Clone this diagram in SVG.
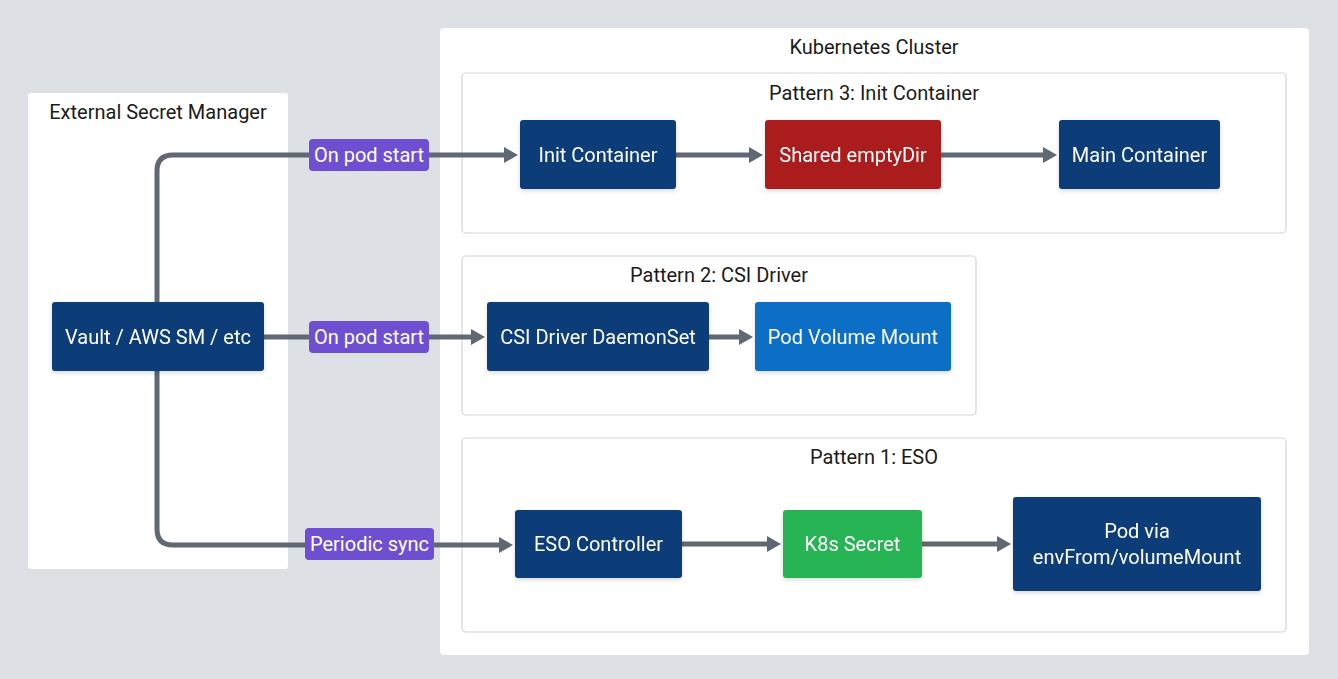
<svg xmlns="http://www.w3.org/2000/svg" width="1338" height="679" viewBox="0 0 1338 679">
<defs>
<style>
text{font-family:Roboto,"Liberation Sans",sans-serif;font-size:20px;}
.title{fill:#1b1b1b;text-anchor:middle;}
.nt{fill:#ffffff;text-anchor:middle;}
.panel{fill:#ffffff;}
.pattern{fill:#ffffff;stroke:#d3d6da;stroke-width:1.2;}
.node{filter:url(#sh);}
.dark{fill:#0b3e78;}
.blue{fill:#0b6ec5;}
.red{fill:#ab1c1e;}
.green{fill:#27b454;}
.lbl{fill:#6e4fd1;}
.conn{fill:none;stroke:#5f6873;stroke-width:5;marker-end:url(#ah);}
</style>
<marker id="ah" markerUnits="userSpaceOnUse" markerWidth="16" markerHeight="18" refX="2" refY="8" orient="auto">
<path d="M0,0 L14,8 L0,16 z" fill="#5f6873"/>
</marker>
<filter id="sh" x="-10%" y="-10%" width="120%" height="130%">
<feDropShadow dx="0" dy="2" stdDeviation="2" flood-color="#000000" flood-opacity="0.15"/>
</filter>
</defs>
<rect width="1338" height="679" fill="#dde1e6"/>

<g id="external-secret-manager">
<rect class="panel" x="28" y="93" width="260" height="476" rx="3"/>
<text class="title" x="158" y="119">External Secret Manager</text>
</g>

<g id="kubernetes-cluster">
<rect class="panel" x="440" y="28" width="869" height="627" rx="4"/>
<text class="title" x="874" y="54">Kubernetes Cluster</text>
</g>

<g id="pattern-3">
<rect class="pattern" x="462" y="73" width="824" height="160" rx="4"/>
<text class="title" x="874" y="100">Pattern 3: Init Container</text>
</g>

<g id="pattern-2">
<rect class="pattern" x="462" y="256" width="514" height="159" rx="4"/>
<text class="title" x="719" y="282">Pattern 2: CSI Driver</text>
</g>

<g id="pattern-1">
<rect class="pattern" x="462" y="438" width="824" height="194" rx="4"/>
<text class="title" x="874" y="464">Pattern 1: ESO</text>
</g>

<g id="connectors">
<path class="conn" d="M157,302 V171 Q157,155 173,155 H506"/>
<path class="conn" d="M264,337 H473"/>
<path class="conn" d="M157,371 V529 Q157,545 173,545 H501"/>
<path class="conn" d="M676,155 H751"/>
<path class="conn" d="M941,155 H1045"/>
<path class="conn" d="M709,337 H741"/>
<path class="conn" d="M682,544 H769"/>
<path class="conn" d="M922,544 H999"/>
</g>

<g id="label-on-pod-start-1">
<rect class="lbl" x="309" y="139" width="120" height="32" rx="4"/>
<text class="nt" x="369" y="162">On pod start</text>
</g>
<g id="label-on-pod-start-2">
<rect class="lbl" x="309" y="321" width="120" height="32" rx="4"/>
<text class="nt" x="369" y="344">On pod start</text>
</g>
<g id="label-periodic-sync">
<rect class="lbl" x="305" y="528" width="129" height="32" rx="4"/>
<text class="nt" x="369.5" y="551">Periodic sync</text>
</g>

<g id="vault" class="node">
<rect class="dark" x="52" y="302" width="212" height="69" rx="3"/>
<text class="nt" x="158" y="344">Vault / AWS SM / etc</text>
</g>

<g id="init-container" class="node">
<rect class="dark" x="520" y="120" width="156" height="69" rx="3"/>
<text class="nt" x="598" y="162">Init Container</text>
</g>

<g id="shared-emptydir" class="node">
<rect class="red" x="765" y="120" width="176" height="69" rx="3"/>
<text class="nt" x="853" y="162">Shared emptyDir</text>
</g>

<g id="main-container" class="node">
<rect class="dark" x="1059" y="120" width="161" height="69" rx="3"/>
<text class="nt" x="1139.5" y="162">Main Container</text>
</g>

<g id="csi-driver" class="node">
<rect class="dark" x="487" y="302" width="222" height="69" rx="3"/>
<text class="nt" x="598" y="344">CSI Driver DaemonSet</text>
</g>

<g id="pod-volume-mount" class="node">
<rect class="blue" x="755" y="302" width="196" height="69" rx="3"/>
<text class="nt" x="853" y="344">Pod Volume Mount</text>
</g>

<g id="eso-controller" class="node">
<rect class="dark" x="515" y="510" width="167" height="68" rx="3"/>
<text class="nt" x="598.5" y="551">ESO Controller</text>
</g>

<g id="k8s-secret" class="node">
<rect class="green" x="783" y="510" width="139" height="68" rx="3"/>
<text class="nt" x="852.5" y="551">K8s Secret</text>
</g>

<g id="pod-envfrom" class="node">
<rect class="dark" x="1013" y="497" width="248" height="94" rx="3"/>
<text class="nt" x="1137" y="538">Pod via</text>
<text class="nt" x="1137" y="564">envFrom/volumeMount</text>
</g>
</svg>
